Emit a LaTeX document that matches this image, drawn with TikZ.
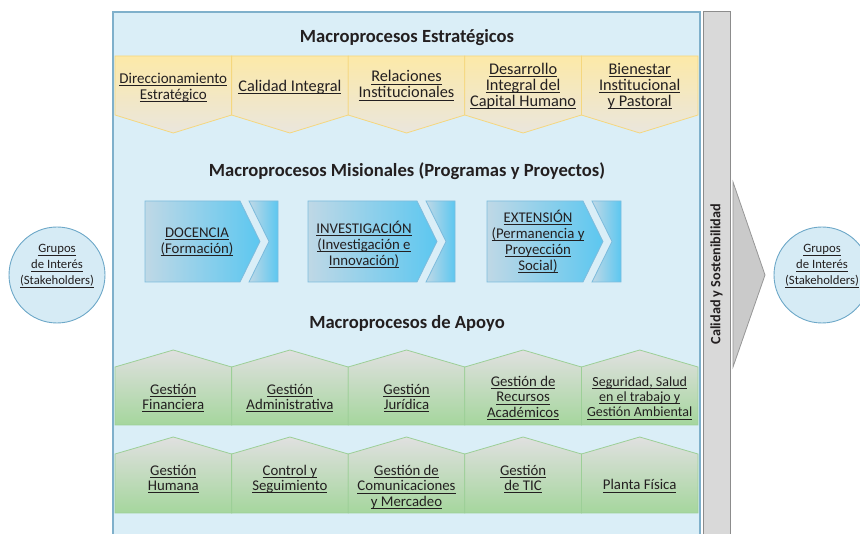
\documentclass[tikz,border=0pt]{standalone}
\usepackage{fontspec}
\setmainfont{Carlito}
\usetikzlibrary{positioning}

\newcommand{\uln}[1]{\begingroup\setbox0\hbox{#1}\rlap{\rule[-2.4pt]{\wd0}{0.75pt}}\box0\endgroup}

\definecolor{panelfill}{HTML}{DAEEF7}
\definecolor{panelline}{HTML}{7FB0CB}
\definecolor{strattop}{HTML}{FCE9A8}
\definecolor{stratbot}{HTML}{EAE6DD}
\definecolor{stratline}{HTML}{F5D77E}
\definecolor{misleft}{HTML}{BFD8E6}
\definecolor{misright}{HTML}{5CC7F0}
\definecolor{misline}{HTML}{7DBCDD}
\definecolor{apotop}{HTML}{E0E0E0}
\definecolor{apobot}{HTML}{A5D69D}
\definecolor{apoline}{HTML}{9CCF97}
\definecolor{barfill}{HTML}{D9D9D9}
\definecolor{barline}{HTML}{8C8C8C}
\definecolor{grpfill}{HTML}{D6EBF5}
\definecolor{grpline}{HTML}{6DA8C8}
\definecolor{txt}{HTML}{231F20}

\tikzset{
  title/.style={font=\fontsize{18.6}{20}\selectfont\bfseries, text=txt},
  strat/.style={draw=stratline, line width=0.8pt, top color=strattop, bottom color=stratbot},
  mision/.style={draw=misline, line width=0.8pt, left color=misleft, right color=misright},
  apoyo/.style={draw=apoline, line width=0.8pt, top color=apotop, bottom color=apobot},
  stext/.style={align=center, text=txt, font=\fontsize{16.3}{16}\selectfont},
  mtext/.style={align=center, text=txt, font=\fontsize{14.8}{16}\selectfont},
  atext/.style={align=center, text=txt, font=\fontsize{14.8}{15.2}\selectfont},
  grupo/.style={circle, draw=grpline, line width=0.9pt, fill=grpfill, minimum size=96pt},
  gtext/.style={align=center, text=txt, font=\fontsize{12.7}{16}\selectfont}
}

\begin{document}
\begin{tikzpicture}[x=1pt,y=-1pt]
\useasboundingbox (0,0) rectangle (860,534);

\draw[draw=panelline, fill=panelfill, line width=1.3pt] (113,12) rectangle (700,545);
\draw[draw=barline, fill=barfill, line width=1pt] (703,12) rectangle (730,545);
\node[rotate=90, font=\fontsize{14.2}{14}\selectfont\bfseries, text=txt] (CYS) at (716.5,274) {Calidad y Sostenibilidad};
\draw[draw=barline!90, fill=barfill!80!barline, line width=0.8pt] (733,182) -- (765,275) -- (733,367) -- cycle;

\node[grupo] (GIL) at (57,275) {};
\node[gtext, yshift=9pt] at (GIL.center) {\uln{Grupos}\\\uln{de Interés}\\\uln{(Stakeholders)}};
\node[grupo] (GIR) at (822,275) {};
\node[gtext, yshift=9pt] at (GIR.center) {\uln{Grupos}\\\uln{de Interés}\\\uln{(Stakeholders)}};

\node[title] (TME) at (407,37.5) {Macroprocesos Estratégicos};
\foreach \a in {115,231.6,348.2,464.8,581.4}
  \path[strat] (\a,56) -- (\a+116.6,56) -- (\a+116.6,115) -- (\a+58.3,133) -- (\a,115) -- cycle;
\node[stext, font=\fontsize{15}{16}\selectfont] (SDE) at (173.3,87.5) {\uln{Direccionamiento}\\\uln{Estratégico}};
\node[stext] (SCI) at (289.9,87.5) {\uln{Calidad Integral}};
\node[stext] (SRI) at (406.5,85.5) {\uln{Relaciones}\\\uln{Institucionales}};
\node[stext] (SDI) at (523.1,86.5) {\uln{Desarrollo}\\\uln{Integral del}\\\uln{Capital Humano}};
\node[stext] (SBI) at (639.7,86.5) {\uln{Bienestar}\\\uln{Institucional}\\\uln{y Pastoral}};

\node[title] (TMM) at (407,171) {Macroprocesos Misionales (Programas y Proyectos)};
\foreach \a/\b in {145/240,308/417,487/583}{
  \path[mision] (\a,201) -- (\b,201) -- (\b+20,241.5) -- (\b,282) -- (\a,282) -- cycle;
  \path[mision] (\b+9,201) -- (\b+38,201) -- (\b+38,282) -- (\b+9,282) -- (\b+29,241.5) -- cycle;
}
\node[mtext] (MDO) at (197,242) {\uln{DOCENCIA}\\\uln{(Formación)}};
\node[mtext] (MIN) at (364,244.5) {\uln{INVESTIGACIÓN}\\\uln{(Investigación e}\\\uln{Innovación)}};
\node[mtext] (MEX) at (538,241.5) {\uln{EXTENSIÓN}\\\uln{(Permanencia y}\\\uln{Proyección}\\\uln{Social)}};

\node[title] (TMA) at (407,323) {Macroprocesos de Apoyo};
\foreach \a in {115,231.6,348.2,464.8,581.4}{
  \path[apoyo] (\a,425) -- (\a,367) -- (\a+58.3,350) -- (\a+116.6,367) -- (\a+116.6,425) -- cycle;
  \path[apoyo] (\a,513) -- (\a,454) -- (\a+58.3,437) -- (\a+116.6,454) -- (\a+116.6,513) -- cycle;
}
\node[atext] (AGF) at (173.3,398) {\uln{Gestión}\\\uln{Financiera}};
\node[atext] (AGA) at (289.9,398) {\uln{Gestión}\\\uln{Administrativa}};
\node[atext] (AGJ) at (406.5,398) {\uln{Gestión}\\\uln{Jurídica}};
\node[atext] (AGR) at (523.1,398) {\uln{Gestión de}\\\uln{Recursos}\\\uln{Académicos}};
\node[atext, font=\fontsize{14}{15.2}\selectfont] (ASS) at (639.7,398) {\uln{Seguridad, Salud}\\\uln{en el trabajo y}\\\uln{Gestión Ambiental}};
\node[atext] (AGH) at (173.3,479) {\uln{Gestión}\\\uln{Humana}};
\node[atext] (ACS) at (289.9,479) {\uln{Control y}\\\uln{Seguimiento}};
\node[atext] (AGC) at (406.5,487) {\uln{Gestión de}\\\uln{Comunicaciones}\\\uln{y Mercadeo}};
\node[atext] (AGT) at (523.1,479) {\uln{Gestión}\\\uln{de TIC}};
\node[atext] (APF) at (639.7,486) {\uln{Planta Física}};
\end{tikzpicture}
\end{document}
